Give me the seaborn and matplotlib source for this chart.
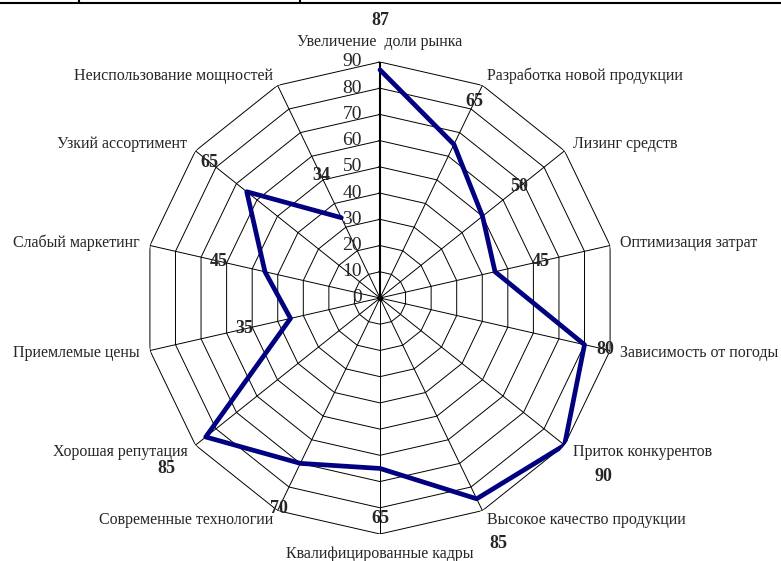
import numpy as np
import pandas as pd
import matplotlib
matplotlib.use("Agg")
import matplotlib.pyplot as plt
import seaborn as sns
from matplotlib.lines import Line2D

# данные (по часовой стрелке, начиная сверху)
categories = [
    "Увеличение  доли рынка", "Разработка новой продукции", "Лизинг средств",
    "Оптимизация затрат", "Зависимость от погоды", "Приток конкурентов",
    "Высокое качество продукции", "Квалифицированные кадры",
    "Современные технологии", "Хорошая репутация", "Приемлемые цены",
    "Слабый маркетинг", "Узкий ассортимент", "Неиспользование мощностей",
]
values = [87, 65, 50, 45, 80, 90, 85, 65, 70, 85, 35, 45, 65, 34]
ring_ticks = [0, 10, 20, 30, 40, 50, 60, 70, 80, 90]

# где стоят подписи значений (радиус в единицах шкалы)
label_r = [106, 83, 68, 63, 88, 109, 104, 84, 89, 104, 53, 63, 83, 52]

sns.set_style("white")
plt.rcParams["font.family"] = ["Liberation Serif", "DejaVu Serif"]

n = len(categories)
theta = np.arange(n) * 2 * np.pi / n
rmax = ring_ticks[-1]

fig = plt.figure(figsize=(7.81, 5.61), dpi=100)
ax = fig.add_axes([144 / 781, 27 / 561, 472 / 781, 472 / 561], projection="polar")
ax.set_theta_zero_location("N")
ax.set_theta_direction(-1)
ax.set_ylim(0, rmax)
ax.grid(False)
ax.set_xticks([])
ax.set_yticks([])
ax.spines["polar"].set_visible(False)
ax.patch.set_alpha(0)

# сетка-многоугольник
th_closed = np.append(theta, theta[0])
for r in ring_ticks[1:]:
    ax.plot(th_closed, [r] * (n + 1), color="black", lw=0.7, zorder=1)
for t in theta[1:]:
    ax.plot([t, t], [0, rmax], color="black", lw=0.7, zorder=1)

# ось значений
ax.plot([0, 0], [0, rmax], color="black", lw=1.5, zorder=2)
for r in ring_ticks:
    ax.annotate(str(r), xy=(0, r), xytext=(-13, 0), textcoords="offset points",
                ha="right", va="center", fontsize=14)
    ax.annotate("", xy=(0, r), xytext=(-3, 0), textcoords="offset points",
                arrowprops=dict(arrowstyle="-", color="black", lw=0.8))
ax.plot([0], [0], "o", color="black", ms=3, zorder=3)

# ряд данных
df = pd.DataFrame({"theta": th_closed, "value": values + values[:1]})
sns.lineplot(data=df, x="theta", y="value", sort=False, color="#000080",
             lw=3.4, ax=ax, zorder=4)
ax.set_xlabel("")
ax.set_ylabel("")
ax.set_xticks([])
ax.set_yticks([])
ax.set_ylim(0, rmax)

# подписи категорий
for t, name in zip(theta, categories):
    s = np.sin(t)
    if abs(s) < 0.1:
        ha, r = "center", 97.5
    elif s > 0:
        ha, r = "left", 94
    else:
        ha, r = "right", 94
    ax.text(t, r, name, ha=ha, va="center", fontsize=11.5)

# подписи значений
for t, v, r in zip(theta, values, label_r):
    ax.text(t, r, str(v), ha="center", va="center", fontsize=13, fontweight="bold")

# рамка сверху
fig.add_artist(Line2D([0, 1], [1 - 3 / 561, 1 - 3 / 561], color="black", lw=1.5))
for x in (79, 300):
    fig.add_artist(Line2D([x / 781, x / 781], [1 - 3 / 561, 1], color="black", lw=1.5))

fig.savefig("out.png", dpi=100)
